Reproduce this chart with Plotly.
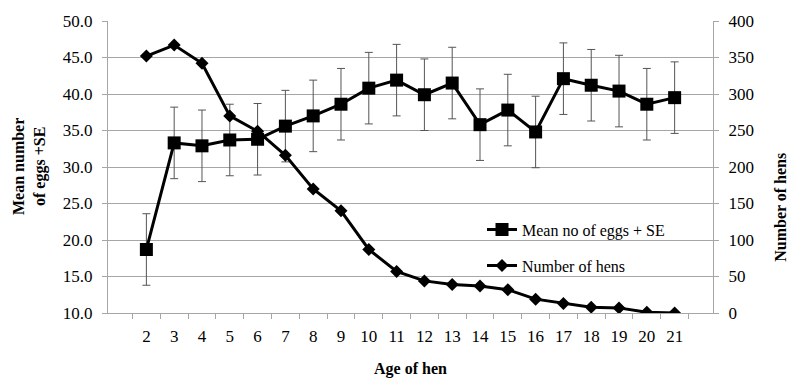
import plotly.graph_objects as go

ages = [str(a) for a in range(2, 22)]
mean_eggs = [18.7, 33.3, 32.9, 33.7, 33.8, 35.6, 37.0, 38.6, 40.8, 41.9, 39.9, 41.5,
             35.8, 37.8, 34.8, 42.1, 41.2, 40.4, 38.6, 39.5]
se_eggs = [4.9, 4.9, 4.9, 4.9, 4.9, 4.9, 4.9, 4.9, 4.9, 4.9, 4.9, 4.9,
           4.9, 4.9, 4.9, 4.9, 4.9, 4.9, 4.9, 4.9]
num_hens = [352, 367, 342, 270, 249, 216, 170, 140, 87, 57, 44, 39,
            37, 32, 19, 13, 8, 7, 1, 0]

FONT = "'Times New Roman', 'Liberation Serif', serif"
GRID = "#a6a6a6"

fig = go.Figure()
fig.add_trace(go.Scatter(
    x=ages, y=mean_eggs, name="Mean no of eggs + SE", yaxis="y",
    mode="lines+markers",
    line=dict(color="black", width=3),
    marker=dict(symbol="square", size=13, color="black"),
    error_y=dict(type="data", array=se_eggs, visible=True,
                 color="#555555", thickness=1, width=4),
    legendgroup="a",
))
fig.add_trace(go.Scatter(
    x=ages, y=num_hens, name="Number of hens", yaxis="y2",
    mode="lines+markers",
    line=dict(color="black", width=3),
    marker=dict(symbol="diamond", size=10, color="black"),
    legendgroup="b",
))

fig.update_layout(
    width=791, height=381,
    margin=dict(l=108, r=78, t=16, b=68),
    paper_bgcolor="white", plot_bgcolor="white",
    font=dict(family=FONT, size=15, color="black"),
    showlegend=True,
    legend=dict(x=(482 - 108) / 605, y=(313 - 211) / 297, xanchor="left", yanchor="top",
                bgcolor="rgba(0,0,0,0)", font=dict(size=16, family=FONT),
                tracegroupgap=12, traceorder="grouped"),
    xaxis=dict(type="category", showline=True, linecolor=GRID, linewidth=1,
               ticks="outside", tickson="boundaries", ticklen=5, tickcolor=GRID,
               showgrid=False, ticklabelstandoff=8, tickfont=dict(size=17, family=FONT)),
    yaxis=dict(range=[10, 50], dtick=5, tickformat=".1f", showline=True,
               linecolor=GRID, ticks="outside", ticklen=5, tickcolor=GRID,
               gridcolor=GRID, gridwidth=1, zeroline=False,
               tickfont=dict(size=17, family=FONT), ticklabelstandoff=6),
    yaxis2=dict(range=[0, 400], dtick=50, overlaying="y", side="right",
                showline=True, linecolor=GRID, ticks="outside", ticklen=5,
                tickcolor=GRID, showgrid=False, zeroline=False,
                tickfont=dict(size=17, family=FONT), ticklabelstandoff=6),
    annotations=[
        dict(text="<b>Mean number<br>of eggs +SE</b>", textangle=-90,
             xref="paper", yref="paper", x=(29 - 108) / 605, y=0.5,
             xanchor="center", yanchor="middle", showarrow=False,
             font=dict(size=16, family=FONT)),
        dict(text="<b>Number of hens</b>", textangle=-90,
             xref="paper", yref="paper", x=(781 - 108) / 605, y=(313 - 206) / 297,
             xanchor="center", yanchor="middle", showarrow=False,
             font=dict(size=16, family=FONT)),
        dict(text="<b>Age of hen</b>",
             xref="paper", yref="paper", x=0.5, y=(313 - 370) / 297,
             xanchor="center", yanchor="middle", showarrow=False,
             font=dict(size=16, family=FONT)),
    ],
)

fig.write_html("out.html", config={"displayModeBar": False},
               post_script="document.body.style.margin='0';")
